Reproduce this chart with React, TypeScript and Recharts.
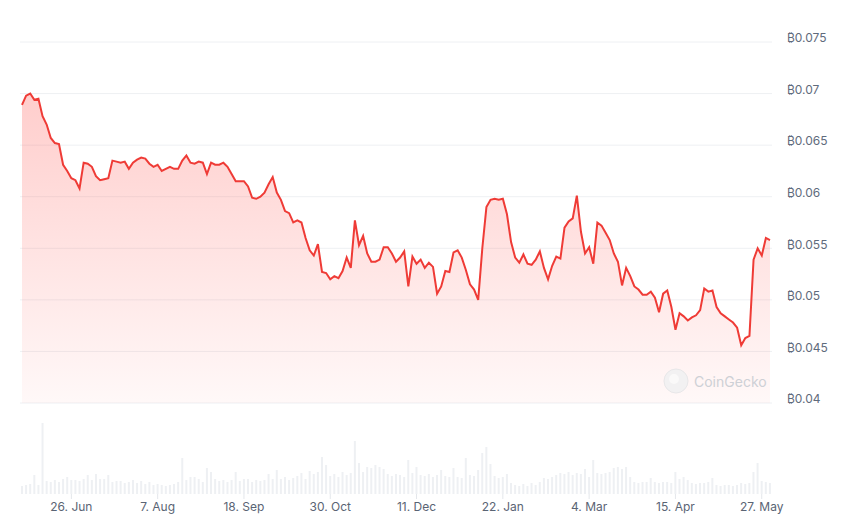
import React from 'react';
import {
  AreaChart,
  Area,
  BarChart,
  Bar,
  XAxis,
  YAxis,
  CartesianGrid,
} from 'recharts';

// one sample every 2 days, 2 Jun 2023 .. 31 May 2024
const prices = [
  0.0689, 0.0698, 0.07, 0.0694, 0.0695, 0.0678, 0.067, 0.0657, 0.0652, 0.0651,
  0.0631, 0.0625, 0.0618, 0.0616, 0.0608, 0.0633, 0.0632, 0.0629, 0.062, 0.0616,
  0.0617, 0.0618, 0.0635, 0.0634, 0.0633, 0.0634, 0.0627, 0.0633, 0.0636, 0.0638,
  0.0637, 0.0632, 0.0629, 0.0631, 0.0625, 0.0627, 0.0629, 0.0627, 0.0627, 0.0635,
  0.064, 0.0633, 0.0632, 0.0634, 0.0633, 0.0622, 0.0633, 0.0631, 0.0631, 0.0633,
  0.0629, 0.0622, 0.0615, 0.0615, 0.0615, 0.061, 0.0599, 0.0598, 0.06, 0.0604,
  0.0612, 0.0619, 0.0604, 0.0597, 0.0586, 0.0584, 0.0575, 0.0577, 0.0575, 0.056,
  0.0548, 0.0543, 0.0554, 0.0527, 0.0526, 0.052, 0.0523, 0.0521, 0.0528, 0.0541,
  0.0531, 0.0577, 0.0553, 0.0562, 0.0545, 0.0537, 0.0537, 0.0539, 0.0551, 0.0551,
  0.0545, 0.0537, 0.0541, 0.0547, 0.0513, 0.0542, 0.0535, 0.0539, 0.0531, 0.0536,
  0.0532, 0.0506, 0.0513, 0.0528, 0.0527, 0.0546, 0.0548, 0.0541, 0.0529, 0.0515,
  0.051, 0.05, 0.055, 0.059, 0.0597, 0.0598, 0.0597, 0.0598, 0.0583, 0.0556,
  0.0541, 0.0536, 0.0544, 0.0535, 0.0534, 0.0539, 0.0547, 0.0531, 0.052, 0.0533,
  0.0542, 0.054, 0.057, 0.0576, 0.0579, 0.0601, 0.0566, 0.0545, 0.0551, 0.0535,
  0.0575, 0.0572, 0.0565, 0.0558, 0.0545, 0.0537, 0.0514, 0.0531, 0.0523, 0.0513,
  0.051, 0.0505, 0.0505, 0.0508, 0.0502, 0.0488, 0.0506, 0.0509, 0.0493, 0.0471,
  0.0487, 0.0484, 0.048, 0.0483, 0.0485, 0.049, 0.0511, 0.0508, 0.0509, 0.0493,
  0.0487, 0.0484, 0.0481, 0.0478, 0.0473, 0.0456, 0.0463, 0.0465, 0.0539, 0.055,
  0.0543, 0.056, 0.0558,
];

const volumes = [
  8, 9, 10, 19, 9, 71, 13, 12, 14, 12,
  15, 17, 14, 14, 13, 15, 19, 14, 20, 15,
  15, 19, 12, 13, 13, 11, 12, 14, 11, 13,
  10, 12, 9, 10, 9, 8, 9, 10, 12, 36,
  14, 17, 17, 15, 12, 26, 22, 15, 13, 14,
  12, 14, 22, 13, 15, 15, 12, 14, 13, 14,
  20, 15, 24, 15, 17, 14, 16, 18, 21, 15,
  23, 20, 22, 37, 29, 18, 20, 17, 22, 19,
  21, 53, 31, 22, 27, 26, 29, 27, 25, 20,
  18, 20, 19, 17, 34, 21, 27, 19, 18, 20,
  17, 19, 24, 18, 17, 26, 17, 16, 36, 19,
  18, 24, 41, 47, 30, 18, 16, 17, 20, 11,
  9, 8, 10, 8, 11, 9, 12, 16, 15, 17,
  19, 21, 20, 22, 19, 21, 20, 25, 17, 34,
  21, 20, 21, 22, 26, 27, 25, 27, 17, 12,
  11, 12, 12, 16, 12, 11, 12, 12, 11, 22,
  15, 17, 14, 11, 10, 11, 11, 12, 16, 9,
  8, 9, 9, 8, 9, 11, 10, 11, 22, 31,
  13, 12, 11,
];

const months = ['Jan', 'Feb', 'Mar', 'Apr', 'May', 'Jun', 'Jul', 'Aug', 'Sep', 'Oct', 'Nov', 'Dec'];
const dates = prices.map((_, i) => {
  const d = new Date(2023, 5, 2 + i * 2);
  return `${d.getDate()}. ${months[d.getMonth()]}`;
});

const xTicks = ['26. Jun', '7. Aug', '18. Sep', '30. Oct', '11. Dec', '22. Jan', '4. Mar', '15. Apr', '27. May'];
const yTicks = [0.04, 0.045, 0.05, 0.055, 0.06, 0.065, 0.07, 0.075];

const data = dates.map((date, i) => ({ date, price: prices[i], volume: volumes[i] }));

const FONT = "Inter, 'Noto Sans', 'DejaVu Sans', sans-serif";
const LINE = '#ef3b36';

export default function App() {
  return (
    <div style={{ position: 'absolute', left: 0, top: 0, width: 842, height: 526, background: '#fff', fontFamily: FONT }}>
      <div style={{ position: 'absolute', left: 0, top: 0 }}>
        <AreaChart width={842} height={420} data={data} margin={{ top: 42, right: 0, bottom: 17, left: 20 }}>
          <defs>
            <linearGradient id="priceFill" x1="0" y1="0" x2="0" y2="1">
              <stop offset="0%" stopColor="#ff5a55" stopOpacity={0.3} />
              <stop offset="100%" stopColor="#ff5a55" stopOpacity={0.04} />
            </linearGradient>
          </defs>
          <CartesianGrid vertical={false} stroke="#eef0f3" />
          <XAxis dataKey="date" hide padding={{ left: 2, right: 2 }} />
          <YAxis
            orientation="right"
            width={70}
            domain={[0.04, 0.075]}
            ticks={yTicks}
            axisLine={false}
            tickLine={false}
            tickMargin={9}
            tick={{ fill: '#5f6b7c', fontSize: 12, fontFamily: FONT, dy: -4 }}
            tickFormatter={(v: number) => `₿${v}`}
          />
          <Area
            type="linear"
            dataKey="price"
            stroke={LINE}
            strokeWidth={2}
            fill="url(#priceFill)"
            fillOpacity={1}
            baseValue={0.04}
            isAnimationActive={false}
            dot={false}
            activeDot={false}
          />
        </AreaChart>
      </div>

      <div style={{ position: 'absolute', left: 0, top: 415 }}>
        <BarChart width={842} height={111} data={data} margin={{ top: 5, right: 70, bottom: 0, left: 20 }} barCategoryGap={0}>
          <XAxis
            dataKey="date"
            ticks={xTicks}
            interval={0}
            height={32}
            axisLine={false}
            tickSize={5}
            tickMargin={3}
            tickLine={{ stroke: '#e4e7eb' }}
            tick={{ fill: '#5a6474', fontSize: 12, fontFamily: FONT }}
          />
          <YAxis hide domain={[0, 74]} />
          <Bar dataKey="volume" fill="#eef0f3" barSize={2} isAnimationActive={false} />
        </BarChart>
      </div>

      <div style={{ position: 'absolute', left: 663, top: 368, display: 'flex', alignItems: 'center', gap: 5, opacity: 0.9 }}>
        <svg width={26} height={26}>
          <circle cx={13} cy={13} r={12} fill="#f1f1f2" stroke="#e6e6e8" />
          <circle cx={11} cy={11} r={5} fill="#fafafa" />
        </svg>
        <span style={{ color: '#c9cdd3', fontSize: 14, fontFamily: FONT }}>CoinGecko</span>
      </div>
    </div>
  );
}
